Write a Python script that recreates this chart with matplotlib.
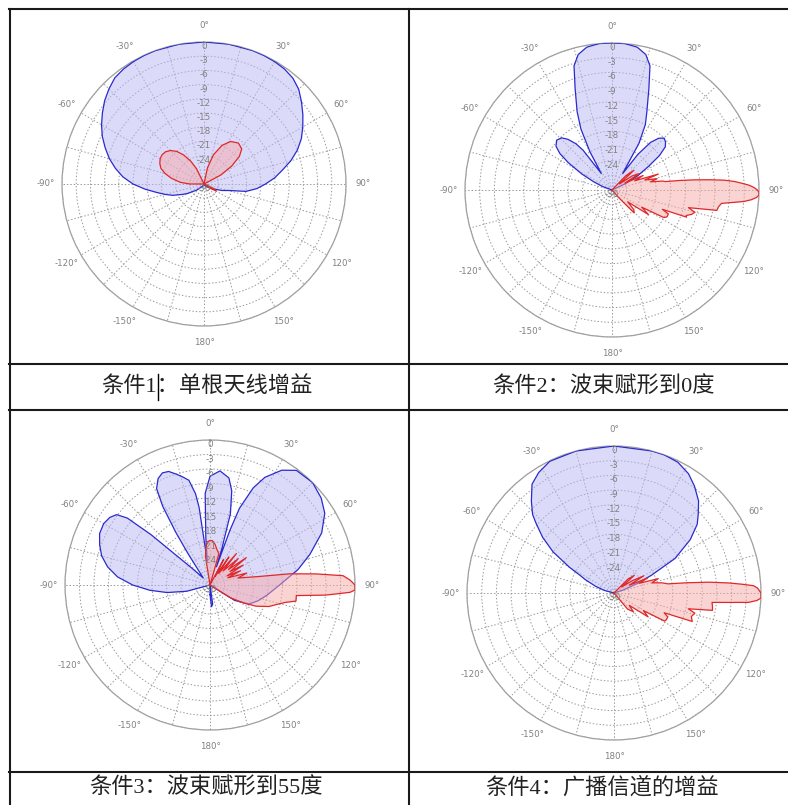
import numpy as np
import matplotlib
matplotlib.use("Agg")
import matplotlib.pyplot as plt
from matplotlib.lines import Line2D

W, H = 788, 805

# gain patterns in dB, angle in degrees (0 = boresight, clockwise positive)
ang1_blue = [-180, -150, -130, -120, -116, -110, -105, -100, -95, -90, -85, -80, -75, -70, -65,
             -60, -55, -50, -45, -40, -35, -30, -25, -20, -10, 0, 10, 20, 25, 30, 35, 40, 45, 50,
             55, 60, 65, 70, 75, 80, 85, 90, 95, 100, 104, 110, 120, 150, 180]
gain1_blue = [-30, -29.5, -28, -26, -25, -23, -21.5, -19.8, -17.5, -15, -12.8, -11, -9.3, -7.8,
              -6.3, -5, -3.8, -2.6, -1.6, -0.7, -0.35, -0.15, -0.05, 0, 0, 0, 0, 0, -0.05, -0.15,
              -0.35, -0.8, -1.7, -3.1, -4.5, -5.9, -7.3, -9, -11, -13.2, -15, -17, -18.8, -21,
              -24.3, -26, -28, -29.5, -30]
ang1_red = [-180, -95, -90, -86, -80, -75, -70, -65, -60, -55, -50, -45, -40, -35, -30, -26, -20,
            8, 12, 18, 25, 32, 40, 47, 52, 57, 62, 67, 110, 115, 120, 125, 130, 180]
gain1_red = [-30, -30, -27, -25, -23, -21.5, -20.3, -19.7, -19.3, -19.2, -19.4, -20, -21, -22.5,
             -24.5, -26.4, -30, -30, -26.5, -23.5, -21, -19.4, -18.7, -19.1, -20.5, -23, -26, -30,
             -30, -27.8, -27, -28.5, -30, -30]

ang2_blue = [-180, -75, -70, -66, -62, -58, -55, -52, -48, -44, -41, -38, -36, -33, -30, -27,
             -24, -20, -17, -14, -10, -5, 0, 5, 10, 14, 17, 20, 24, 27, 30, 33, 36, 39, 42, 45,
             48, 51, 54, 57, 61, 65, 70, 180]
gain2_blue = [-30, -30, -28, -26, -23, -19.5, -17, -15.5, -14.8, -15.2, -16.3, -18, -20, -26,
              -21, -16, -12.5, -8, -3.5, -1.5, -0.4, 0, 0, 0, -0.4, -1.5, -3.5, -8, -12.5, -15,
              -19, -26, -21, -17.5, -15.8, -15, -15.3, -16, -18, -21, -24, -27, -30, -30]
ang2_red = [-180, 40, 44, 48, 51, 55, 59, 62, 65, 68, 71, 73, 76, 78, 80, 81, 82, 83, 84, 85, 86,
            87, 88, 89, 90, 91, 92, 93, 94, 95, 96, 97, 99, 101, 103, 105, 107, 109, 110, 111,
            113, 116, 118, 120, 124, 127, 132, 136, 139, 145, 180]
gain2_red = [-30, -30, -26, -24, -28, -25, -23.5, -27, -23, -25, -20, -23, -20.5, -22, -19.5, -19,
             -16, -13, -10, -7, -5, -3.5, -2, -1, -0.3, 0, 0, -0.5, -1.5, -3, -5.5, -7.5, -8, -8.2,
             -14, -12.5, -13, -14, -13.8, -19, -17.5, -17.5, -18, -23, -21, -26, -24, -23.5, -28,
             -30, -30]

ang3_blue = [-180, -165, -110, -105, -100, -95, -90, -85, -80, -75, -70, -65, -60, -56, -53, -51,
             -49.5, -47, -44, -40, -35, -33, -31, -29, -26, -23, -20, -17, -14, -11.4, -9, -8,
             -6.5, -5, -3, 0, 5, 10, 13, 16, 18, 19.5, 20, 21, 24, 27, 32, 37, 45, 52, 58, 65, 73,
             80, 90, 100, 108, 116, 122, 128, 165, 172, 176, 180]
gain3_blue = [-28, -30, -30, -25, -21, -17.5, -14, -10.8, -8.5, -6.8, -5.7, -4.8, -4.6, -5, -5.8,
              -8, -14, -25, -28, -27, -22, -17, -11, -7.2, -5.5, -4.8, -5, -6, -7, -7.9, -10.9,
              -13.8, -25, -20, -11, -7.5, -6.3, -7.5, -10, -14.7, -22, -26, -18, -13, -8, -5, -2,
              -0.3, 0, -0.8, -2, -4.5, -8.4, -11.5, -15.6, -18, -19.5, -21, -24, -30, -30, -26,
              -25.5, -28]
ang3_red = [-180, -12, -9, -6, -3, 0, 3, 7, 11, 16, 18, 25, 28, 31, 34, 37, 40, 43, 47, 50, 53,
            56, 59, 62, 65, 68, 72, 76, 80, 82, 84, 86, 88, 90, 92, 93, 95, 97, 100.6, 103, 106,
            110, 114.7, 118, 122, 126, 180]
gain3_red = [-30, -30, -24, -22, -21, -20.8, -20.8, -21.5, -22.5, -23.3, -30, -30, -24, -28, -23,
             -27, -21.5, -26, -22, -25, -20.6, -25, -22, -26, -23, -26, -22, -24, -20, -13.4, -8,
             -2.4, -1, 0, 0, -1, -6, -12, -11.9, -14, -15.5, -17, -19.5, -22, -25, -30, -30]

ang4_blue = [-180, -80, -75, -70, -65, -62.5, -60, -56, -52, -48, -46, -42, -37, -32, -26, -15,
             0, 15, 20, 26, 32, 37, 42.6, 47, 50.5, 55, 60.5, 64.7, 68, 72, 80, 180]
gain4_blue = [-30, -30, -28, -26, -23.5, -22.2, -19.5, -15, -11.5, -8.5, -6.9, -4.8, -2.2, -1,
              -0.1, 0, 0, 0, 0, -0.3, -1.3, -2.7, -4.5, -6.5, -8, -11, -15.7, -21.6, -25, -28,
              -30, -30]
ang4_red = [-180, 40, 45, 49, 52, 56, 60, 63, 66, 69, 72, 75, 78, 80.4, 82, 83.5, 85, 86, 87, 88,
            90, 92, 93, 94, 95.5, 98, 100, 102, 104, 107, 110, 111.5, 114, 117, 119, 121, 125,
            129, 134, 140, 143, 180]
gain4_red = [-30, -30, -26, -24.5, -28, -25.5, -23, -26.5, -22.5, -24.5, -20.5, -22, -20, -18.8,
             -15, -10.5, -6.5, -4, -1.5, -0.7, 0, 0, -0.8, -2.5, -9.9, -9.7, -9.6, -14.5, -13,
             -13.5, -13, -19, -18, -18, -18.2, -23, -21.5, -26, -24.5, -25.7, -30, -30]

captions = ["条件1：单根天线增益", "条件2：波束赋形到0度",
            "条件3：波束赋形到55度", "条件4：广播信道的增益"]

theta_labels = ["0°", "30°", "60°", "90°", "120°", "150°", "180°",
                "-150°", "-120°", "-90°", "-60°", "-30°"]
r_ticks = list(range(-30, 1, 3))

panels = [
    # (cx, cy, radius) in pixels
    ((204, 184, 142), ang1_blue, gain1_blue, ang1_red, gain1_red),
    ((612, 190, 147), ang2_blue, gain2_blue, ang2_red, gain2_red),
    ((210, 585, 145), ang3_blue, gain3_blue, ang3_red, gain3_red),
    ((614, 593, 147), ang4_blue, gain4_blue, ang4_red, gain4_red),
]

fig = plt.figure(figsize=(W / 100, H / 100), dpi=100)
fig.patch.set_facecolor("white")

for (cx, cy, rad), ab, gb, ar, gr in panels:
    ax = fig.add_axes([(cx - rad) / W, 1 - (cy + rad) / H, 2 * rad / W, 2 * rad / H],
                      projection="polar")
    ax.set_theta_zero_location("N")
    ax.set_theta_direction(-1)
    ax.set_ylim(-30, 0)

    ticks = np.arange(0, 360, 15)
    ax.set_xticks(np.deg2rad(ticks))
    labs = []
    for t in ticks:
        if t % 30:
            labs.append("")
        else:
            labs.append(theta_labels[(t // 30) % 12])
    ax.set_xticklabels(labs, fontsize=6.2, color="#808080")
    ax.xaxis.set_tick_params(pad=1.5)

    ax.set_yticks(r_ticks)
    ax.set_yticklabels([])
    ax.grid(True, linestyle=(0, (1.5, 2)), color="#9a9a9a", linewidth=0.7)
    ax.spines["polar"].set_color("#a0a0a0")
    ax.spines["polar"].set_linewidth(0.9)

    tb = np.deg2rad(ab)
    ax.fill(tb, gb, facecolor="#b8b8f4", alpha=0.5, zorder=2)
    ax.plot(tb, gb, color="#2a2ad0", lw=0.9, zorder=3)

    tr = np.deg2rad(ar)
    ax.fill(tr, gr, facecolor="#f7a8a8", alpha=0.5, zorder=4)
    ax.plot(tr, gr, color="#e02828", lw=0.9, zorder=5)

    for r in r_ticks:
        if r == -27:
            continue
        ax.text(0, r, str(r), fontsize=6.3, color="#808080", ha="center", va="top",
                zorder=6)

# table rules
def hline(y, x0=9, x1=W):
    fig.add_artist(Line2D([x0 / W, x1 / W], [1 - y / H, 1 - y / H], color="#1a1a1a", lw=1.5))

def vline(x, y0=9, y1=H):
    fig.add_artist(Line2D([x / W, x / W], [1 - y0 / H, 1 - y1 / H], color="#1a1a1a", lw=1.5))

hline(9)
hline(364)
hline(410)
hline(772)
vline(9.5)
vline(409)

cap_font = ["Liberation Serif", "Noto Sans CJK SC"]
cap_size = 16
cap_pos = [(207, 387), (603, 387), (206, 788), (602, 788)]
cap_texts = []
for (x, y), s in zip(cap_pos, captions):
    t = fig.text(x / W, 1 - y / H, s, family=cap_font, fontsize=cap_size, color="#222222",
                 ha="center", va="center")
    cap_texts.append(t)

# text cursor left after "条件1" in the first caption
renderer = fig.canvas.get_renderer()
full = cap_texts[0].get_window_extent(renderer)
head = fig.text(0, 0, "条件1", family=cap_font, fontsize=cap_size)
head_w = head.get_window_extent(renderer).width
head.remove()
cx = (full.x0 + head_w + 1.5) / W
fig.add_artist(Line2D([cx, cx], [1 - 374 / H, 1 - 400 / H], color="black", lw=1.0))

fig.savefig("out.png", dpi=100, facecolor="white")
